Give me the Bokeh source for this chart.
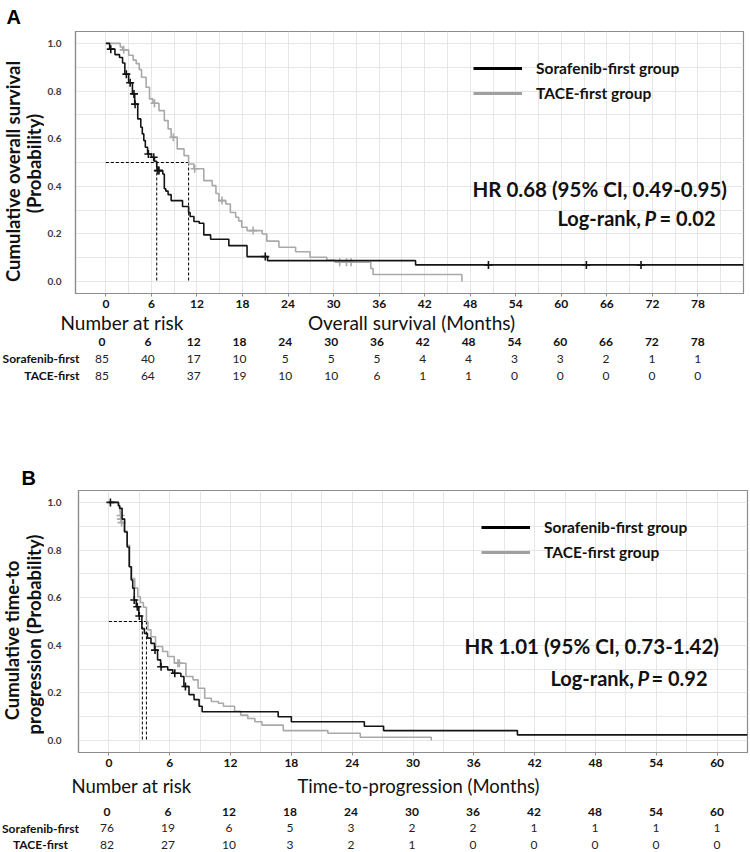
import math
from bokeh.plotting import figure
from bokeh.models import (Range1d, FixedTicker, Label, Legend, LegendItem,
                          ColumnDataSource, PrintfTickFormatter)
from bokeh.layouts import column, row
from bokeh.core.properties import value
from bokeh.embed import file_html
from bokeh.resources import INLINE

FONT = "Lato"
BLACK = "#141414"
GRAY = "#a9a9a9"
FRAME = "#8c8c8c"
GRID = "#e6e6e6"

# ---------------- Panel A : overall survival ----------------
a_ticks = [0, 6, 12, 18, 24, 30, 36, 42, 48, 54, 60, 66, 72, 78]
a_risk_sor = [85, 40, 17, 10, 5, 5, 5, 4, 4, 3, 3, 2, 1, 1]
a_risk_tace = [85, 64, 37, 19, 10, 10, 6, 1, 1, 0, 0, 0, 0, 0]

a_sor_t = [0, 0.5, 1.2, 1.8, 2.2, 2.5, 3.0, 3.5, 3.8, 4.2, 4.6, 4.8, 5.0, 5.2, 5.5,
           6.0, 6.4, 6.7, 6.9, 7.5, 7.7, 7.9, 8.2, 8.6, 10.1, 10.9, 11.1, 11.6, 12.3,
           12.9, 13.8, 16.2, 18.6, 21.3, 40.8]
a_sor_s = [1.0, 0.976, 0.953, 0.941, 0.918, 0.871, 0.835, 0.788, 0.745, 0.683, 0.648,
           0.62, 0.592, 0.564, 0.536, 0.522, 0.505, 0.48, 0.466, 0.452, 0.39, 0.38,
           0.365, 0.34, 0.315, 0.29, 0.273, 0.252, 0.245, 0.196, 0.178, 0.151, 0.105,
           0.088, 0.07]
a_sor_end = 84
a_sor_cens_t = [0.65, 2.7, 3.2, 3.7, 3.85, 5.6, 6.3, 6.85, 7.0, 21.0, 50.4, 63.3, 70.5]
a_sor_cens_s = [0.976, 0.871, 0.835, 0.788, 0.745, 0.536, 0.522, 0.466, 0.466, 0.105,
                0.07, 0.07, 0.07]

a_tace_t = [0, 1.9, 2.2, 3.0, 3.6, 4.0, 4.4, 4.7, 5.3, 5.75, 6.2, 7.0, 7.7, 8.2, 8.6,
            9.4, 10.3, 10.9, 11.6, 12.9, 14.0, 14.5, 14.9, 15.8, 16.4, 17.1, 17.5, 17.9,
            18.6, 20.6, 21.2, 22.8, 25.0, 26.9, 29.1, 30.2, 34.9, 35.2, 46.9]
a_tace_s = [1.0, 0.985, 0.973, 0.95, 0.93, 0.915, 0.89, 0.858, 0.816, 0.767, 0.749,
            0.718, 0.676, 0.641, 0.606, 0.557, 0.529, 0.494, 0.474, 0.424, 0.403, 0.37,
            0.34, 0.326, 0.29, 0.27, 0.255, 0.228, 0.214, 0.2, 0.17, 0.144, 0.125,
            0.102, 0.09, 0.081, 0.055, 0.03, 0.0]
a_tace_cens_t = [2.35, 6.4, 8.9, 11.7, 15.3, 19.4, 30.8, 31.7, 32.3]
a_tace_cens_s = [0.973, 0.749, 0.606, 0.474, 0.34, 0.214, 0.081, 0.081, 0.081]
a_medians = [6.7, 10.9]

# ---------------- Panel B : time-to-progression ----------------
b_ticks = [0, 6, 12, 18, 24, 30, 36, 42, 48, 54, 60]
b_risk_sor = [76, 19, 6, 5, 3, 2, 2, 1, 1, 1, 1]
b_risk_tace = [82, 27, 10, 3, 2, 1, 0, 0, 0, 0, 0]

b_sor_t = [0, 0.95, 1.05, 1.3, 1.55, 1.8, 2.0, 2.2, 2.35, 2.5, 2.7, 2.95, 3.25, 3.5,
           3.8, 4.15, 4.5, 4.8, 5.1, 5.8, 6.3, 7.1, 7.4, 7.9, 8.4, 8.9, 9.2, 16.7,
           18.0, 25.2, 27.1, 40.3]
b_sor_s = [1.0, 0.987, 0.975, 0.93, 0.876, 0.813, 0.73, 0.674, 0.64, 0.59, 0.562,
           0.523, 0.47, 0.45, 0.43, 0.408, 0.38, 0.339, 0.31, 0.297, 0.283, 0.269,
           0.227, 0.193, 0.172, 0.144, 0.121, 0.1, 0.079, 0.06, 0.042, 0.024]
b_sor_end = 63
b_sor_cens_t = [0.15, 2.5, 2.8, 3.0, 4.55, 5.15, 6.5, 7.55]
b_sor_cens_s = [1.0, 0.59, 0.562, 0.523, 0.38, 0.31, 0.283, 0.227]

b_tace_t = [0, 0.9, 1.1, 1.15, 1.2, 1.25, 1.5, 1.8, 2.05, 2.25, 2.55, 2.85, 3.1, 3.4,
            3.7, 3.85, 4.15, 4.6, 5.3, 5.8, 6.45, 7.6, 8.3, 8.8, 9.45, 10.1, 10.8,
            11.3, 12.4, 13.0, 13.7, 14.4, 15.1, 17.2, 21.6, 24.8, 31.8]
b_tace_s = [1.0, 0.985, 0.96, 0.945, 0.93, 0.915, 0.88, 0.82, 0.73, 0.68, 0.64, 0.604,
            0.58, 0.56, 0.5, 0.465, 0.436, 0.395, 0.374, 0.353, 0.325, 0.269, 0.255,
            0.22, 0.178, 0.164, 0.157, 0.144, 0.123, 0.107, 0.093, 0.079, 0.065,
            0.042, 0.031, 0.014, 0.0]
b_tace_cens_t = [1.15, 1.2, 1.25, 6.8, 6.95]
b_tace_cens_s = [0.945, 0.93, 0.915, 0.325, 0.325]
b_medians = [3.3, 3.7]

y_ticks = [0.0, 0.2, 0.4, 0.6, 0.8, 1.0]
y_minor = [0.1, 0.3, 0.5, 0.7, 0.9]

PAGE_W = 750
STRIP_W = 44


def lbl(p, x, y, text, size, style="bold", align="left", angle=0.0,
        font=FONT, color="#111111", baseline="middle", y_units="screen"):
    p.add_layout(Label(x=x, y=y, x_units="screen", y_units=y_units, text=text,
                       text_font=font, text_font_size=size, text_font_style=style,
                       text_align=align, text_baseline=baseline, angle=angle,
                       text_color=color))


def blank(width, height, xr=(0, 1), yr=(0, 1), bt=0, bb=0):
    f = figure(width=width, height=height, x_range=Range1d(*xr), y_range=Range1d(*yr),
               output_backend="svg", toolbar_location=None, min_border_left=0,
               min_border_right=0, min_border_top=bt, min_border_bottom=bb,
               x_axis_location=None, y_axis_location=None)
    f.outline_line_color = None
    f.grid.visible = False
    return f


def km_panel(g, ticks, sor, tace, medians, texts):
    height = g["bottom"] + g["bb"] - g["top0"]
    bt = g["ftop"] - g["top0"]
    bl = g["fleft"] - STRIP_W
    br = PAGE_W - g["fright"]
    p = figure(width=PAGE_W - STRIP_W, height=height, x_range=Range1d(*g["xr"]),
               y_range=Range1d(-0.05, 1.05), output_backend="svg",
               toolbar_location=None, min_border_left=bl, min_border_right=br,
               min_border_top=bt, min_border_bottom=g["bb"])
    p.outline_line_color = FRAME
    p.outline_line_width = 1.2
    minor = [m for m in range(3, int(g["xr"][1]) + 1, 3) if m % 6 != 0]
    p.xaxis.ticker = FixedTicker(ticks=ticks, minor_ticks=minor)
    p.yaxis.ticker = FixedTicker(ticks=y_ticks, minor_ticks=y_minor)
    p.yaxis.formatter = PrintfTickFormatter(format="%.1f")
    for ax in (p.xaxis[0], p.yaxis[0]):
        ax.axis_line_color = FRAME
        ax.axis_line_width = 1.2
        ax.major_tick_line_color = FRAME
        ax.minor_tick_line_color = None
        ax.major_tick_in = 0
        ax.major_label_text_font = FONT
        ax.major_label_text_font_style = "bold"
    p.xaxis.major_tick_out = 3
    p.xaxis.major_label_standoff = 2
    p.xaxis.major_label_text_font_size = "12px"
    p.xaxis.major_label_text_color = "#111111"
    p.yaxis.major_tick_out = 0
    p.yaxis.major_label_standoff = g["ystand"]
    p.yaxis.major_label_text_font_size = "10px"
    p.yaxis.major_label_text_color = "#3a3a3a"
    for gr in (p.xgrid[0], p.ygrid[0]):
        gr.grid_line_color = GRID
        gr.minor_grid_line_color = GRID
        gr.grid_line_width = 1
        gr.minor_grid_line_width = 1

    # median dashed guides
    p.segment(x0=[0], y0=[0.5], x1=[max(medians)], y1=[0.5], line_color="black",
              line_width=1, line_dash="3 2")
    p.segment(x0=medians, y0=[0.5] * len(medians), x1=medians, y1=[0.0] * len(medians),
              line_color="black", line_width=1, line_dash="3 2")

    # curves (grey first, black on top)
    for (t, s, end, ct, cs, col) in (tace, sor):
        xs = list(t) + ([end] if end is not None else [])
        ys = list(s) + ([s[-1]] if end is not None else [])
        p.step(x=xs, y=ys, mode="after", line_color=col, line_width=1.6)
        p.scatter(x=ct, y=cs, marker="cross", size=8, line_color=col, line_width=1.6)

    # legend keys (thick lines, kept outside the visible ranges)
    kx = [g["xr"][0] - 5, g["xr"][0] - 4]
    d1 = p.line(x=kx, y=[-1, -1], line_color="black", line_width=3)
    d2 = p.line(x=kx, y=[-1, -1], line_color="#a0a0a0", line_width=3)
    leg = Legend(items=[LegendItem(label="Sorafenib-first group", renderers=[d1]),
                        LegendItem(label="TACE-first group", renderers=[d2])],
                 location=texts["legend"], orientation="vertical",
                 border_line_color=None, background_fill_alpha=0, padding=0, margin=0,
                 spacing=5, glyph_width=49, glyph_height=20, label_height=20,
                 label_standoff=14, label_text_font=FONT, label_text_font_style="bold",
                 label_text_font_size="15.5px", label_text_color="#111111")
    p.add_layout(leg)

    lbl(p, *texts["hr"], size="20.5px")
    lbl(p, *texts["lr1"], size="20px")
    lbl(p, *texts["lr2"], size="20px", style="bold italic")
    lbl(p, *texts["lr3"], size="20px")

    # left strip: panel letter (title) and two-line y title; frame aligned with main
    s = blank(STRIP_W, height, bt=bt, bb=g["bb"])
    s.title.text = texts["letter"][0]
    s.title.text_font = "Liberation Sans"
    s.title.text_font_size = "20px"
    s.title.text_font_style = "bold"
    s.title.text_color = "black"
    s.title.align = "left"
    s.title.offset = texts["letter"][1]
    s.title.standoff = texts["letter"][2]
    for (x, py, t) in texts["ytitle"]:
        lbl(s, x, g["bottom"] - py, t, "18.5px", align="center", angle=math.pi / 2)
    return row(s, p, spacing=0), p


def risk_table(g, height, ticks, sor, tace, texts):
    ppm = (g["fright"] - g["fleft"]) / (g["xr"][1] - g["xr"][0])
    x0 = g["xr"][0] - g["fleft"] / ppm
    x1 = g["xr"][1] + (PAGE_W - g["fright"]) / ppm
    t = blank(PAGE_W, height, xr=(x0, x1), yr=(0, height))
    top = g["bottom"] + g["bb"]

    def yy(page_y):
        return height - (page_y - top)

    hdr = ColumnDataSource(dict(x=ticks, y=[yy(texts["rows"][0])] * len(ticks),
                                s=[str(v) for v in ticks]))
    t.text(x="x", y="y", text="s", source=hdr, text_font=value(FONT),
           text_font_style="bold", text_font_size="12px", text_align="center",
           text_baseline="middle", text_color="#111111")
    for vals, py in ((sor, texts["rows"][1]), (tace, texts["rows"][2])):
        src = ColumnDataSource(dict(x=ticks, y=[yy(py)] * len(ticks),
                                    s=[str(v) for v in vals]))
        t.text(x="x", y="y", text="s", source=src, text_font=value(FONT),
               text_font_size="12px", text_align="center", text_baseline="middle",
               text_color="#222222")
    for (name, py), (lx, al) in zip((("Sorafenib-first", texts["rows"][1]),
                                    ("TACE-first", texts["rows"][2])), texts["rowlab"]):
        lbl(t, lx, yy(py), name, "12px", align=al, y_units="data")
    lbl(t, texts["nar"][0], yy(texts["nar"][1]), "Number at risk", texts["tsize"],
        style="normal", y_units="data")
    lbl(t, texts["xtitle"][0], yy(texts["xtitle"][1]), texts["xtitle"][2],
        texts["tsize"], style="normal", align="center", y_units="data")
    return t


# Panel A geometry (page pixels): frame x 71..743, y 31..293
gA = dict(top0=0, ftop=31, bottom=293, bb=19, fleft=71, fright=743, xr=(-4, 84), ystand=10)
textsA = dict(
    legend=(398, 190),
    hr=(397, 105, "HR 0.68 (95% CI, 0.49-0.95)"),
    lr1=(482, 76, "Log-rank,"),
    lr2=(569, 76, "P"),
    lr3=(584, 76, "= 0.02"),
    letter=("A", 6, 7),
    ytitle=[(12, 171, "Cumulative overall survival"), (33, 163, "(Probability)")],
)
rowA, pA = km_panel(gA, a_ticks,
                    (a_sor_t, a_sor_s, a_sor_end, a_sor_cens_t, a_sor_cens_s, BLACK),
                    (a_tace_t, a_tace_s, None, a_tace_cens_t, a_tace_cens_s, GRAY),
                    a_medians, textsA)
tA = risk_table(gA, 72, a_ticks, a_risk_sor, a_risk_tace,
                dict(rows=(341, 358, 375), rowlab=((79, "right"), (79, "right")),
                     nar=(60, 322), xtitle=(411, 322, "Overall survival (Months)"),
                     tsize="19px"))

# Panel B geometry: frame x 76..747, y 490..752 ; figure starts at page y 384
gB = dict(top0=384, ftop=490, bottom=752, bb=20, fleft=76, fright=747, xr=(-3, 63), ystand=13)
textsB = dict(
    legend=(403, 190),
    hr=(386, 107, "HR 1.01 (95% CI, 0.73-1.42)"),
    lr1=(472, 75, "Log-rank,"),
    lr2=(559, 75, "P"),
    lr3=(573, 75, "= 0.92"),
    letter=("B", 21, 4),
    ytitle=[(11, 640, "Cumulative time-to"), (33, 634, "progression (Probability)")],
)
rowB, pB = km_panel(gB, b_ticks,
                    (b_sor_t, b_sor_s, b_sor_end, b_sor_cens_t, b_sor_cens_s, BLACK),
                    (b_tace_t, b_tace_s, None, b_tace_cens_t, b_tace_cens_s, GRAY),
                    b_medians, textsB)
tB = risk_table(gB, 80, b_ticks, b_risk_sor, b_risk_tace,
                dict(rows=(811, 827.5, 844), rowlab=((40, "center"), (40, "center")),
                     nar=(71, 785), xtitle=(418, 785, "Time-to-progression (Months)"),
                     tsize="18.5px"))

layout = column(rowA, tA, rowB, tB, spacing=0)
open("out.html", "w").write(file_html(layout, INLINE))
